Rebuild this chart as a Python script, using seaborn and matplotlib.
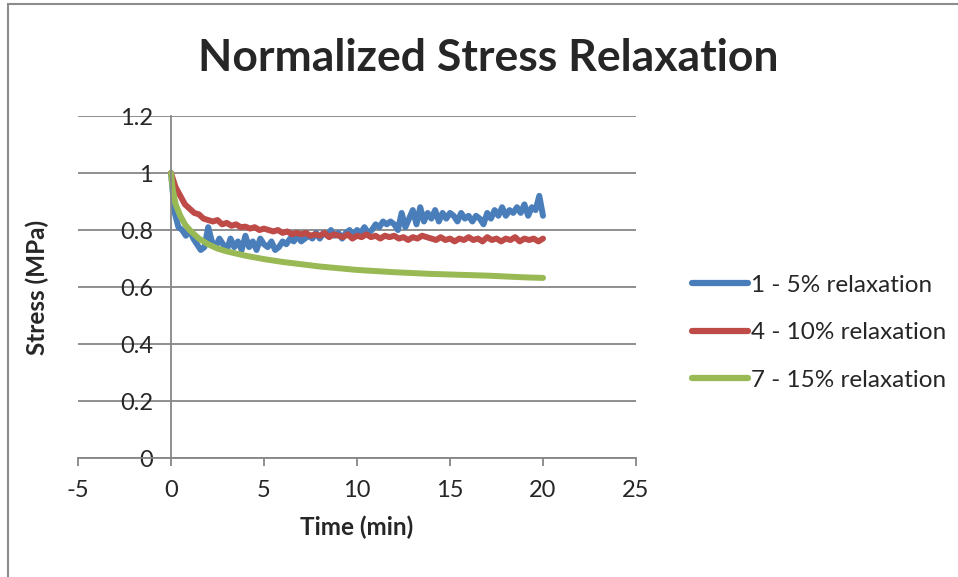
import numpy as np
import pandas as pd
import seaborn as sns
import matplotlib.pyplot as plt
from matplotlib.patches import Rectangle

# --- data ---
blue_time = np.round(np.arange(0, 20.01, 0.2), 1)
blue_stress = [
    1.00, 0.86, 0.81, 0.80, 0.78, 0.80, 0.77, 0.75, 0.73, 0.74,
    0.81, 0.76, 0.74, 0.77, 0.75, 0.73, 0.77, 0.74, 0.76, 0.73,
    0.78, 0.74, 0.76, 0.73, 0.77, 0.75, 0.74, 0.76, 0.73, 0.74,
    0.76, 0.75, 0.77, 0.76, 0.78, 0.76, 0.77, 0.78, 0.77, 0.79,
    0.77, 0.79, 0.78, 0.80, 0.78, 0.79, 0.77, 0.79, 0.80, 0.78,
    0.80, 0.79, 0.81, 0.79, 0.80, 0.82, 0.81, 0.83, 0.82, 0.83,
    0.82, 0.80, 0.86, 0.81, 0.84, 0.87, 0.82, 0.88, 0.83, 0.86,
    0.84, 0.87, 0.83, 0.86, 0.84, 0.86, 0.85, 0.83, 0.86, 0.84,
    0.85, 0.83, 0.85, 0.84, 0.82, 0.86, 0.84, 0.87, 0.85, 0.88,
    0.85, 0.87, 0.86, 0.88, 0.86, 0.89, 0.85, 0.88, 0.87, 0.92,
    0.85,
]

red_time = np.arange(0, 20.01, 0.25)
red_stress = [
    1.00, 0.95, 0.92, 0.89, 0.875, 0.86, 0.855, 0.84, 0.835, 0.83,
    0.835, 0.82, 0.825, 0.815, 0.82, 0.81, 0.812, 0.805, 0.81, 0.80,
    0.805, 0.80, 0.795, 0.80, 0.79, 0.795, 0.785, 0.79, 0.785, 0.79,
    0.78, 0.785, 0.78, 0.79, 0.775, 0.785, 0.78, 0.775, 0.785, 0.77,
    0.78, 0.775, 0.785, 0.775, 0.78, 0.77, 0.78, 0.775, 0.78, 0.77,
    0.775, 0.765, 0.775, 0.77, 0.78, 0.775, 0.77, 0.765, 0.775, 0.765,
    0.77, 0.76, 0.77, 0.765, 0.775, 0.765, 0.77, 0.76, 0.775, 0.765,
    0.77, 0.76, 0.77, 0.765, 0.775, 0.76, 0.77, 0.765, 0.77, 0.76,
    0.77,
]

green_time = [0, 0.1, 0.25, 0.5, 0.75, 1, 1.5, 2, 2.5, 3, 4, 5, 6, 7, 8, 9,
              10, 11, 12, 13, 14, 15, 16, 17, 18, 19, 20]
green_stress = [1.0, 0.94, 0.89, 0.85, 0.82, 0.80, 0.77, 0.75, 0.735, 0.725,
                0.71, 0.698, 0.688, 0.68, 0.672, 0.666, 0.66, 0.656, 0.652,
                0.649, 0.646, 0.644, 0.642, 0.64, 0.637, 0.634, 0.632]

series_names = ['1 - 5% relaxation', '4 - 10% relaxation', '7 - 15% relaxation']
x_ticks = [-5, 0, 5, 10, 15, 20, 25]
y_ticks = [0, 0.2, 0.4, 0.6, 0.8, 1, 1.2]
y_tick_labels = ['0', '0.2', '0.4', '0.6', '0.8', '1', '1.2']

df = pd.concat([
    pd.DataFrame({'Time': blue_time, 'Stress': blue_stress, 'Series': series_names[0]}),
    pd.DataFrame({'Time': red_time, 'Stress': red_stress, 'Series': series_names[1]}),
    pd.DataFrame({'Time': green_time, 'Stress': green_stress, 'Series': series_names[2]}),
], ignore_index=True)

palette = {series_names[0]: '#4A7EBB', series_names[1]: '#BE4B48', series_names[2]: '#98B954'}

sns.set_style('white')
plt.rcParams['font.family'] = ['Lato', 'DejaVu Sans']
plt.rcParams['axes.unicode_minus'] = False

grid_color = '#868686'

fig = plt.figure(figsize=(9.58, 5.77), dpi=100)
ax = fig.add_axes([0.0814, 0.2062, 0.5825, 0.5927])

sns.lineplot(data=df, x='Time', y='Stress', hue='Series', palette=palette,
             estimator=None, sort=False, linewidth=4.3, ax=ax, legend=True)

ax.set_xlim(-5, 25)
ax.set_ylim(0, 1.2)
ax.set_xticks(x_ticks)
ax.set_yticks(y_ticks)
ax.set_yticklabels(y_tick_labels)

ax.yaxis.grid(True, color=grid_color, linewidth=1.3)
ax.xaxis.grid(False)
ax.set_axisbelow(True)

for side in ['top', 'right']:
    ax.spines[side].set_visible(False)
ax.spines['left'].set_position(('data', 0))
ax.spines['left'].set_color(grid_color)
ax.spines['left'].set_linewidth(1.3)
ax.spines['bottom'].set_color(grid_color)
ax.spines['bottom'].set_linewidth(1.3)

ax.tick_params(axis='x', direction='out', length=6, width=1.3, color=grid_color,
               labelsize=17, pad=10, bottom=True)
ax.tick_params(axis='y', length=0, labelsize=17, pad=13)

ax.set_xlabel('Time (min)', fontsize=17.5, fontweight='bold', labelpad=10)
ax.set_ylabel('Stress (MPa)', fontsize=17.5, fontweight='bold')
ax.yaxis.set_label_coords(-0.052, 0.5)

fig.text(0.51, 0.90, 'Normalized Stress Relaxation', fontsize=32, fontweight='bold',
         ha='center', va='center')

handles, labels = ax.get_legend_handles_labels()
for h in handles:
    h.set_linewidth(4.5)
ax.legend(handles, labels, loc='center left', bbox_to_anchor=(0.70, 0.423),
          bbox_transform=fig.transFigure, frameon=False, fontsize=17.5,
          handlelength=2.3, handletextpad=0.1, labelspacing=1.09)

fig.patches.append(Rectangle((0.0084, -0.2), 1.2, 1.193, transform=fig.transFigure,
                             fill=False, edgecolor='#8c8c8c', linewidth=1.5))

fig.savefig('out.png', dpi=100)
